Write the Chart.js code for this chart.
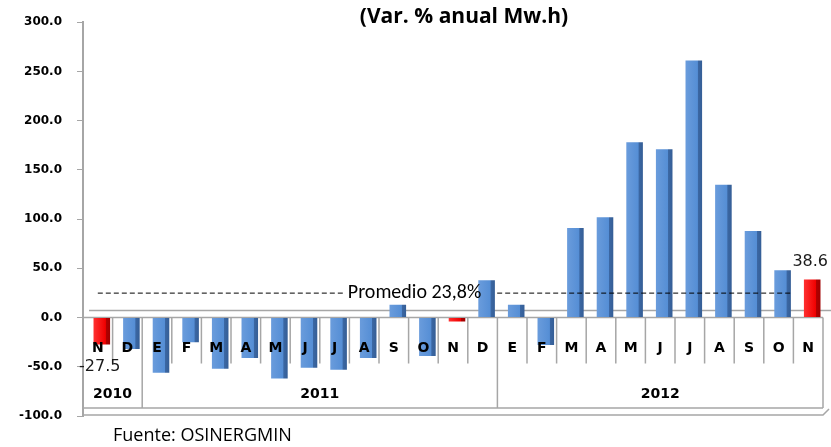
<!DOCTYPE html>
<html lang="es">
<head>
    <meta charset="UTF-8">
    <title>Var. % anual Mw.h</title>
    <script src="https://cdn.jsdelivr.net/npm/chart.js"></script>
    <style>
        body { margin: 0; background: #fff; }
        #wrap { width: 831px; height: 447px; }
    </style>
</head>
<body>
    <div id="wrap"><canvas id="varChart"></canvas></div>

    <script>
        // data
        const months = ['N', 'D', 'E', 'F', 'M', 'A', 'M', 'J', 'J', 'A', 'S', 'O', 'N',
                        'D', 'E', 'F', 'M', 'A', 'M', 'J', 'J', 'A', 'S', 'O', 'N'];
        const years = ['2010', '2011', '2012'];
        const yearStart = [0, 2, 14];      // first month index of each year
        const yearEnd = [1, 13, 24];       // last month index of each year
        const variation = [-27.5, -32, -56, -25, -52, -41, -62, -51, -53, -41, 13, -39, -4,
                           38, 13, -28, 91, 102, 178, 171, 261, 135, 88, 48, 38.6];
        const highlighted = [0, 12, 24];   // red bars (November)
        const labelled = [0, 24];          // bars with value labels
        const average = 23.8;
        const averageText = 'Promedio 23,8%';
        const titleText = '(Var. % anual Mw.h)';
        const sourceText = 'Fuente: OSINERGMIN';

        const barShift = 4;
        const barPct = 0.56;
        const lineGray = '#A6A6A6';

        function barFill(c) {
            const red = highlighted.includes(c.dataIndex);
            const xs = c.chart.scales.x;
            if (!xs || !xs.width) return red ? '#FF0000' : '#558ED5';
            const cx = xs.getPixelForValue(c.dataIndex);
            const w = xs.width / months.length * barPct;
            const g = c.chart.ctx.createLinearGradient(cx - w / 2, 0, cx + w / 2, 0);
            if (red) {
                g.addColorStop(0, '#FF3030');
                g.addColorStop(0.72, '#F00000');
                g.addColorStop(0.76, '#B00000');
                g.addColorStop(1, '#A00000');
            } else {
                g.addColorStop(0, '#6A9CDC');
                g.addColorStop(0.72, '#558ED5');
                g.addColorStop(0.76, '#3B67A3');
                g.addColorStop(1, '#355E96');
            }
            return g;
        }

        const decorations = {
            id: 'decorations',
            beforeDatasetsDraw(chart) {
                const { ctx, chartArea: a, scales: { x, y } } = chart;
                const y0 = y.getPixelForValue(0);
                const step = x.width / months.length;
                ctx.save();
                ctx.strokeStyle = lineGray;
                ctx.lineWidth = 1.5;
                // floor
                ctx.beginPath();
                ctx.moveTo(a.left + 6, y0 - 7); ctx.lineTo(chart.width, y0 - 7);
                ctx.moveTo(a.left, y0); ctx.lineTo(a.right, y0);
                ctx.stroke();
                // month separators
                ctx.beginPath();
                for (let i = 1; i < months.length; i++) {
                    const sx = a.left + i * step;
                    ctx.moveTo(sx, y0); ctx.lineTo(sx, y0 + 46);
                }
                // year separators
                yearStart.forEach(s => {
                    const sx = a.left + s * step;
                    ctx.moveTo(sx, y0); ctx.lineTo(sx, a.bottom - 8);
                });
                ctx.moveTo(a.right, y0); ctx.lineTo(a.right, a.bottom - 8);
                // bottom frame
                ctx.moveTo(a.left, a.bottom - 8); ctx.lineTo(a.right, a.bottom - 8);
                ctx.moveTo(a.left, a.bottom - 1); ctx.lineTo(a.right, a.bottom - 1);
                ctx.lineTo(a.right + 6, a.bottom - 7);
                ctx.stroke();
                ctx.restore();

                ctx.save();
                ctx.translate(barShift, 0);
            },
            afterDatasetsDraw(chart) {
                const { ctx, chartArea: a, scales: { x, y } } = chart;
                ctx.restore();
                const y0 = y.getPixelForValue(0);
                const step = x.width / months.length;
                ctx.save();
                ctx.fillStyle = '#000';
                ctx.textAlign = 'center';
                ctx.textBaseline = 'middle';

                // month letters
                ctx.font = 'bold 14px "DejaVu Sans"';
                months.forEach((m, i) => ctx.fillText(m, x.getPixelForValue(i), y0 + 31));

                // years
                years.forEach((yr, i) => {
                    const cx = a.left + (yearStart[i] + yearEnd[i] + 1) / 2 * step;
                    ctx.fillText(yr, cx, y0 + 77);
                });

                // value labels
                ctx.font = '16px "DejaVu Sans"';
                ctx.fillStyle = '#1a1a1a';
                labelled.forEach(i => {
                    const v = variation[i];
                    const py = y.getPixelForValue(v);
                    ctx.fillText(v.toFixed(1), x.getPixelForValue(i) + 2, v < 0 ? py + 22 : py - 18);
                });

                // average line with text
                const ay = y.getPixelForValue(average) - 1;
                ctx.font = '20px Carlito, Lato, sans-serif';
                ctx.fillStyle = '#000';
                const tw = ctx.measureText(averageText).width;
                const tx = x.getPixelForValue(10.7);
                ctx.fillText(averageText, tx, ay);
                ctx.strokeStyle = '#000';
                ctx.lineWidth = 1;
                ctx.setLineDash([5, 3]);
                ctx.beginPath();
                ctx.moveTo(x.getPixelForValue(0), ay); ctx.lineTo(tx - tw / 2 - 4, ay);
                ctx.moveTo(tx + tw / 2 + 16, ay); ctx.lineTo(x.getPixelForValue(23.45), ay);
                ctx.stroke();
                ctx.setLineDash([]);

                // title and source
                ctx.font = 'bold 21px "Open Sans"';
                ctx.fillText(titleText, 464, 17);
                ctx.textAlign = 'left';
                ctx.font = '18px "Open Sans"';
                ctx.fillText(sourceText, 113, 436);
                ctx.restore();
            }
        };

        new Chart(document.getElementById('varChart'), {
            type: 'bar',
            data: {
                labels: months,
                datasets: [{
                    data: variation,
                    backgroundColor: barFill,
                    borderWidth: 0,
                    barPercentage: barPct,
                    categoryPercentage: 1
                }]
            },
            options: {
                responsive: true,
                maintainAspectRatio: false,
                animation: false,
                layout: { padding: { top: 18, bottom: 31, left: 0, right: 8 } },
                plugins: {
                    legend: { display: false },
                    tooltip: { enabled: false }
                },
                scales: {
                    x: { display: false },
                    y: {
                        min: -100,
                        max: 300,
                        afterFit: scale => { scale.width = 83; },
                        ticks: {
                            stepSize: 50,
                            padding: 15,
                            color: '#000',
                            font: { family: 'DejaVu Sans', weight: 'bold', size: 12 },
                            callback: v => v.toFixed(1)
                        },
                        grid: { drawOnChartArea: false, tickLength: 6, color: lineGray },
                        border: { color: lineGray, width: 2 }
                    }
                }
            },
            plugins: [decorations]
        });
    </script>
</body>
</html>
